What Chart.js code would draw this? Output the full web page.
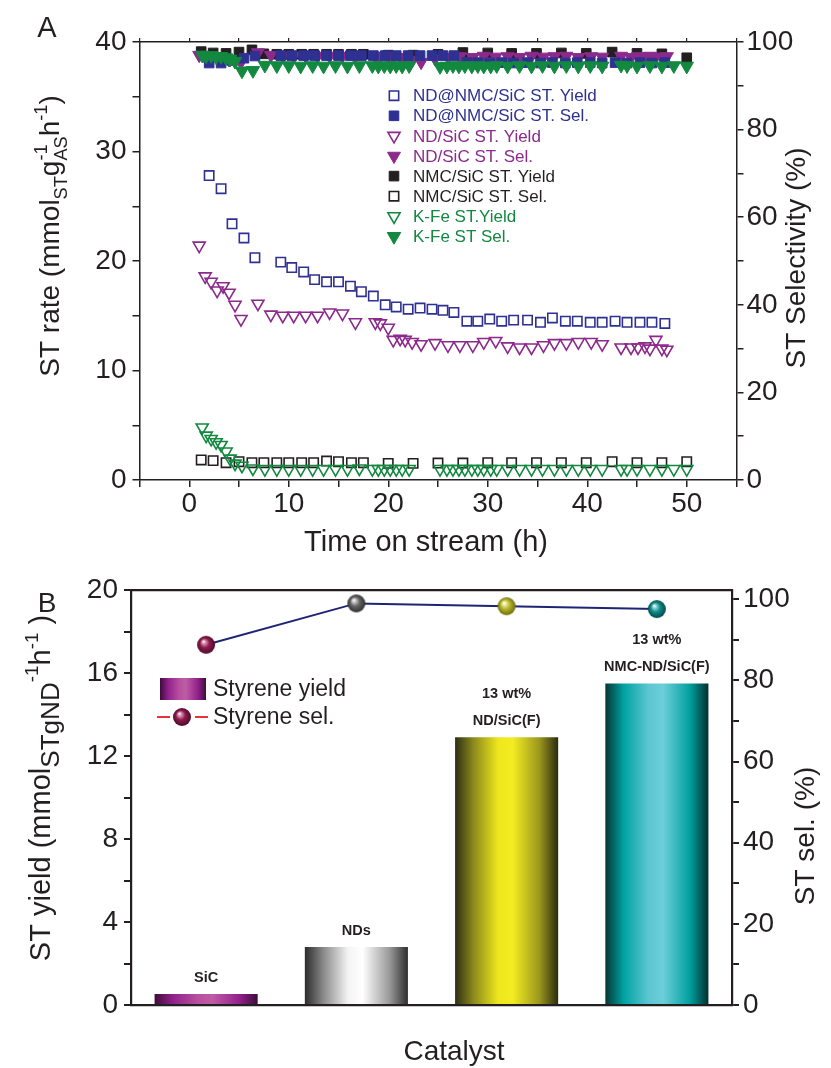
<!DOCTYPE html>
<html>
<head>
<meta charset="utf-8">
<script src="https://cdn.jsdelivr.net/npm/chart.js@4.4.0/dist/chart.umd.min.js"></script>
<style>
  html, body { margin: 0; padding: 0; background: #fff; }
  #wrap { position: relative; width: 831px; height: 1068px; }
  canvas { position: absolute; left: 0; }
  #chartA { top: 0; }
  #chartB { top: 560px; }
</style>
</head>
<body>
<div id="wrap">
  <canvas id="chartA" width="831" height="560"></canvas>
  <canvas id="chartB" width="831" height="508"></canvas>
</div>
<script>
// ---------- panel A : rate / selectivity vs time on stream ----------
const hoursNdNmc = [2.0, 3.2, 4.3, 5.5, 6.6, 9.2, 10.3, 11.5, 12.6, 13.8, 15.0, 16.2, 17.3, 18.5, 19.7, 20.8, 22.0, 23.2, 24.4, 25.5, 26.6,
  27.9, 29.0, 30.2, 31.4, 32.6, 34.0, 35.3, 36.5, 37.8, 39.0, 40.3, 41.5, 42.8, 44.0, 45.3, 46.5, 47.8];
const ndNmcYield = [27.8, 26.6, 23.4, 22.1, 20.3, 19.9, 19.4, 19.0, 18.3, 18.1, 18.1, 17.7, 17.2, 16.8, 16.0, 15.8, 15.6, 15.7, 15.6, 15.5, 15.3,
  14.5, 14.5, 14.7, 14.5, 14.6, 14.6, 14.4, 14.8, 14.5, 14.5, 14.4, 14.4, 14.5, 14.4, 14.4, 14.4, 14.3];
const ndNmcSel = [95.2, 95.2, 95.8, 96.3, 96.8, 96.9, 96.9, 96.9, 96.9, 96.9, 96.9, 96.9, 96.9, 96.9, 96.9, 96.9, 96.9, 96.9, 96.9, 96.9, 96.9,
  95.3, 95.3, 95.2, 95.3, 95.2, 95.3, 95.2, 95.3, 95.2, 95.3, 95.3, 95.2, 95.3, 95.2, 95.3, 95.2, 95.3];

const hoursNdSic = [1.0, 1.6, 2.2, 2.8, 3.4, 4.0, 4.6, 5.2, 6.9, 8.2, 9.4, 10.5, 11.7, 12.9, 14.1, 15.4, 16.7, 18.7, 19.2, 20.0,
  20.5, 21.2, 21.7, 22.4, 23.3, 24.7, 26.0, 27.2, 28.5, 29.6, 30.8, 32.0, 33.2, 34.4, 35.6, 36.7, 37.9, 39.1, 40.4, 41.5,
  43.4, 44.4, 45.1, 45.8, 46.3, 46.9, 47.5, 48.0];
const ndSicYield = [21.4, 18.6, 18.1, 17.3, 17.7, 17.1, 16.0, 14.7, 16.1, 15.1, 15.0, 15.0, 15.0, 15.0, 15.3, 15.2, 14.4, 14.4, 14.3, 13.9,
  12.8, 12.9, 12.8, 12.6, 12.4, 12.5, 12.3, 12.3, 12.3, 12.6, 12.7, 12.2, 12.1, 12.1, 12.3, 12.5, 12.5, 12.6, 12.6, 12.4,
  12.1, 12.1, 12.1, 12.2, 12.0, 12.8, 12.0, 11.9];
const ndSicSel = [97.0, 96.6, 96.4, 96.5, 96.3, 96.0, 95.6, 95.4, 97.6, 97.0, 96.8, 96.8, 96.8, 96.8, 96.8, 96.8, 96.8, 96.8, 96.8, 96.8,
  96.6, 96.5, 96.2, 95.8, 95.4, 96.2, 96.6, 96.7, 96.5, 96.8, 96.6, 96.7, 96.5, 96.8, 96.6, 96.7, 96.8, 96.5, 96.7, 96.6,
  96.8, 96.5, 96.7, 96.6, 96.8, 96.6, 96.5, 96.7];

const hoursNmcSic = [1.2, 2.4, 3.7, 5.0, 6.3, 7.5, 8.8, 10.0, 11.3, 12.5, 13.8, 15.0, 16.3, 17.5, 20.0, 22.5, 25.0, 27.5, 30.0,
  32.4, 34.9, 37.4, 39.9, 42.5, 45.0, 47.5, 50.0];
const nmcSicYield = [97.8, 97.5, 97.4, 97.7, 98.2, 97.3, 97.2, 97.2, 97.2, 97.2, 97.2, 97.2, 97.2, 97.2, 97.0, 97.0, 97.2, 97.6, 97.5,
  97.4, 97.4, 97.5, 97.4, 97.7, 97.4, 97.3, 96.4];
const nmcSicSel = [1.83, 1.77, 1.58, 1.67, 1.58, 1.58, 1.58, 1.58, 1.58, 1.58, 1.73, 1.67, 1.58, 1.58, 1.52, 1.52, 1.55, 1.55, 1.58,
  1.58, 1.58, 1.58, 1.58, 1.67, 1.58, 1.58, 1.67];

const hoursKFe = [1.3, 1.7, 2.2, 2.7, 3.2, 3.7, 4.1, 4.6, 5.3, 6.4, 7.6, 8.8,
  10.0, 11.2, 12.4, 13.5, 14.7, 15.9, 17.1, 18.4, 19.0, 19.6, 20.2, 20.8, 21.4, 22.1,
  25.2, 25.9, 26.5, 27.1, 27.7, 28.4, 29.0, 29.6, 30.3, 30.9, 32.0, 33.2, 34.4, 35.5, 36.7, 37.9, 39.1, 40.3, 41.5,
  43.4, 44.0, 45.0, 46.3, 47.5, 48.7, 50.0];
const kFeYield = [4.8, 4.05, 3.75, 3.45, 3.2, 2.6, 1.95, 1.5, 1.3, 1.05, 1.0, 1.0,
  1.0, 1.0, 1.0, 1.0, 1.0, 1.0, 1.05, 1.0, 1.0, 1.0, 1.0, 1.0, 1.0, 1.0,
  1.0, 1.0, 1.0, 1.0, 1.0, 1.0, 1.0, 1.0, 1.0, 1.0, 1.0, 1.0, 1.0, 1.0, 1.0, 1.0, 1.0, 1.0, 1.0,
  1.0, 1.0, 1.0, 1.0, 1.0, 1.0, 1.0];
const kFeSel = [97.0, 96.8, 96.9, 96.6, 96.7, 96.4, 96.1, 95.6, 93.4, 93.5, 94.7, 94.6,
  94.6, 94.5, 94.6, 94.5, 94.6, 94.5, 94.6, 94.6, 94.5, 94.6, 94.5, 94.6, 94.5, 94.6,
  94.4, 94.5, 94.6, 94.5, 94.6, 94.5, 94.6, 94.5, 94.5, 94.6, 94.5, 94.6, 94.5, 94.6, 94.5, 94.6, 94.5, 94.6, 94.5,
  94.7, 94.6, 94.5, 94.6, 94.5, 94.6, 94.5];

const seriesLabels = ['ND@NMC/SiC ST. Yield', 'ND@NMC/SiC ST. Sel.', 'ND/SiC ST. Yield', 'ND/SiC ST. Sel.',
  'NMC/SiC ST. Yield', 'NMC/SiC ST. Sel.', 'K-Fe ST.Yield', 'K-Fe ST Sel.'];
const timeTicks = [0, 10, 20, 30, 40, 50];
const rateTicks = [0, 10, 20, 30, 40];
const selTicks = [0, 20, 40, 60, 80, 100];

// ---------- panel B : catalysts ----------
const catalysts = ['SiC', 'NDs', 'ND/SiC(F)', 'NMC-ND/SiC(F)'];
const styreneYield = [0.53, 2.8, 12.9, 15.5];
const styreneSel = [88.8, 99.0, 98.3, 97.6];
const barTags = [['SiC'], ['NDs'], ['13 wt%', 'ND/SiC(F)'], ['13 wt%', 'NMC-ND/SiC(F)']];
const yieldTicks = [0, 4, 8, 12, 16, 20];
const selTicksB = [0, 20, 40, 60, 80, 100];

// ---------- styling ----------
const FONT = '"Liberation Sans", Arial, Helvetica, sans-serif';
const INK = '#231f20';
const navy = '#2e3191', purple = '#8c2a8c', green = '#12893f', black = '#231f20';

const barShades = [
  ['#3f0c3b', '#93218c', '#b7509e', '#be5ca6', '#93218c', '#3d0c3a'],
  ['#2b2b2b', '#8a8a8a', '#f4f4f4', '#ffffff', '#9a9a9a', '#2e2e2e'],
  ['#2e2e14', '#8c8a1c', '#efe71c', '#f3ec22', '#9a961e', '#2a2a10'],
  ['#063634', '#00a3a3', '#5cc6d2', '#6ccfd9', '#00a0a0', '#042f2e']
];
const shadeStops = [0, 0.18, 0.42, 0.56, 0.82, 1];
const ballShades = [
  ['#e7a6c4', '#8e1b4e', '#4e0b2a'],
  ['#d8d8d8', '#646464', '#303030'],
  ['#f4f4b0', '#b6b52c', '#6e6c0c'],
  ['#a6e2de', '#0e8c88', '#03484a']
];

function pts(xs, ys) { return xs.map((x, i) => ({ x: x, y: ys[i] })); }

function makeBall(sh, r) {
  const c = document.createElement('canvas');
  c.width = c.height = 2 * r + 2;
  const g = c.getContext('2d');
  const m = r + 1;
  const grad = g.createRadialGradient(m - r * 0.3, m - r * 0.38, r * 0.04, m, m, r);
  grad.addColorStop(0, '#ffffff');
  grad.addColorStop(0.12, sh[0]);
  grad.addColorStop(0.5, sh[1]);
  grad.addColorStop(1, sh[2]);
  g.fillStyle = grad;
  g.beginPath(); g.arc(m, m, r, 0, Math.PI * 2); g.fill();
  return c;
}
const balls = ballShades.map(s => makeBall(s, 9));

function axisFont() { return { family: FONT, size: 28 }; }

function richText(ctx, runs, cx, cy, size) {
  ctx.save();
  ctx.translate(cx, cy);
  ctx.rotate(-Math.PI / 2);
  const items = [];
  let w = 0, prevX = 0;
  runs.forEach(([t, kind, scale, stack]) => {
    const fs = size * (scale || (kind === 'n' ? 1 : 0.65));
    ctx.font = fs + 'px ' + FONT;
    const tw = ctx.measureText(t).width;
    const x = stack ? prevX : w;
    w = Math.max(w, x + tw);
    prevX = x;
    items.push({ t, kind, fs, x });
  });
  ctx.fillStyle = INK;
  ctx.textAlign = 'left';
  ctx.textBaseline = 'alphabetic';
  const base = size * 0.36;
  items.forEach(it => {
    ctx.font = it.fs + 'px ' + FONT;
    const dy = it.kind === 'sub' ? size * 0.3 : it.kind === 'sup' ? -size * 0.42 : 0;
    ctx.fillText(it.t, it.x - w / 2, base + dy);
  });
  ctx.restore();
}

function marker(ctx, ds, x, y) {
  const r = ds.pointRadius;
  ctx.save();
  ctx.lineWidth = ds.pointBorderWidth;
  ctx.strokeStyle = ds.pointBorderColor;
  ctx.fillStyle = ds.pointBackgroundColor;
  ctx.beginPath();
  if (ds.pointStyle === 'rect') {
    const s = r * Math.SQRT1_2;
    ctx.rect(x - s, y - s, 2 * s, 2 * s);
  } else {
    ctx.moveTo(x, y + r);
    ctx.lineTo(x - r * 0.866, y - r * 0.5);
    ctx.lineTo(x + r * 0.866, y - r * 0.5);
    ctx.closePath();
  }
  ctx.fill();
  ctx.stroke();
  ctx.restore();
}

function series(i, xs, ys, axis, style, color, filled, r, order) {
  return {
    label: seriesLabels[i], data: pts(xs, ys), yAxisID: axis,
    pointStyle: style, pointRotation: style === 'triangle' ? 180 : 0, pointRadius: r, pointHoverRadius: r,
    pointBorderColor: color, pointBackgroundColor: filled ? color : 'rgba(255,255,255,0)',
    pointBorderWidth: filled ? 1 : 1.6, borderColor: color, backgroundColor: color, order: order
  };
}

// ---------- chart A ----------
const panelA = {
  id: 'panelA',
  afterDraw(chart) {
    const ctx = chart.ctx;
    chart.data.datasets.forEach((ds, i) => {
      const y = 95.7 + i * 20.1;
      marker(ctx, ds, 394, y);
      ctx.fillStyle = ds.pointBorderColor;
      ctx.font = '17px ' + FONT;
      ctx.textAlign = 'left';
      ctx.textBaseline = 'middle';
      ctx.fillText(ds.label, 413, y + 1);
    });
    ctx.fillStyle = INK;
    ctx.font = '29px ' + FONT;
    ctx.textAlign = 'center';
    ctx.textBaseline = 'middle';
    ctx.fillText('A', 47, 29);
    ctx.fillText('Time on stream (h)', 426, 543);
    richText(ctx, [['ST rate (mmol', 'n'], ['ST', 'sub'], ['g', 'n'], ['-1', 'sup'], ['AS', 'sub', 0, true],
      ['h', 'n'], ['-1', 'sup'], [')', 'n']], 49, 236, 28);
    richText(ctx, [['ST Selectivity (%)', 'n']], 795, 258, 28);
  }
};

function edge(w) { return { display: true, color: INK, width: w }; }
function tickGrid(len, w) { return { drawOnChartArea: false, drawTicks: true, tickLength: len, color: INK, lineWidth: w }; }

new Chart(document.getElementById('chartA'), {
  type: 'scatter',
  data: {
    datasets: [
      series(0, hoursNdNmc, ndNmcYield, 'y', 'rect', navy, false, 6.6, 5),
      series(1, hoursNdNmc, ndNmcSel, 'y2', 'rect', navy, true, 6.8, 3),
      series(2, hoursNdSic, ndSicYield, 'y', 'triangle', purple, false, 7, 6),
      series(3, hoursNdSic, ndSicSel, 'y2', 'triangle', purple, true, 7.5, 8),
      series(4, hoursNmcSic, nmcSicYield, 'y2', 'rect', black, true, 6.8, 9),
      series(5, hoursNmcSic, nmcSicSel, 'y', 'rect', black, false, 6.6, 7),
      series(6, hoursKFe, kFeYield, 'y', 'triangle', green, false, 7, 4),
      series(7, hoursKFe, kFeSel, 'y2', 'triangle', green, true, 7.8, 1)
    ]
  },
  options: {
    responsive: false, animation: false, devicePixelRatio: 1,
    layout: { padding: 0 },
    plugins: { legend: { display: false }, tooltip: { enabled: false } },
    scales: {
      x: {
        type: 'linear', position: 'bottom', min: -5, max: 55,
        afterFit: s => { s.height = 80; },
        ticks: { stepSize: 5, autoSkip: false, maxRotation: 0, padding: 0, color: INK, font: axisFont(),
          callback: v => timeTicks.includes(v) ? v : '' },
        grid: tickGrid(7, 1.5), border: edge(1.5)
      },
      x2: {
        type: 'linear', position: 'top', min: -5, max: 55,
        afterFit: s => { s.height = 42; },
        ticks: { stepSize: 5, autoSkip: false, callback: () => '' },
        grid: tickGrid(4, 1.2), border: edge(1.5)
      },
      y: {
        type: 'linear', position: 'left', min: 0, max: 40,
        afterFit: s => { s.width = 139.5; },
        ticks: { stepSize: 5, autoSkip: false, padding: 6, color: INK, font: axisFont(),
          callback: v => rateTicks.includes(v) ? v : '' },
        grid: tickGrid(7, 1.5), border: edge(1.5)
      },
      y2: {
        type: 'linear', position: 'right', min: 0, max: 100,
        afterFit: s => { s.width = 94.5; },
        ticks: { stepSize: 10, autoSkip: false, padding: 3, color: INK, font: axisFont(),
          callback: v => selTicks.includes(v) ? v : '' },
        grid: tickGrid(7, 1.5), border: edge(1.5)
      }
    }
  },
  plugins: [panelA]
});

// ---------- chart B ----------
function barFill(c) {
  const chart = c.chart;
  const xs = chart.scales.x;
  const i = c.dataIndex;
  if (!chart.chartArea || !xs || i === undefined) return barShades[0][2];
  const cx = xs.getPixelForValue(i);
  const half = xs.width / catalysts.length * 0.686 / 2;
  const g = chart.ctx.createLinearGradient(cx - half, 0, cx + half, 0);
  barShades[i].forEach((col, k) => g.addColorStop(shadeStops[k], col));
  return g;
}

const panelB = {
  id: 'panelB',
  afterDraw(chart) {
    const ctx = chart.ctx;
    const xs = chart.scales.x, yl = chart.scales.yL;
    ctx.fillStyle = INK;
    ctx.textAlign = 'center';
    ctx.textBaseline = 'middle';
    ctx.font = 'bold 14.5px ' + FONT;
    barTags.forEach((tags, i) => {
      const cx = xs.getPixelForValue(i);
      const top = yl.getPixelForValue(styreneYield[i]);
      tags.forEach((t, k) => {
        ctx.fillText(t, cx, top - 16 - (tags.length - 1 - k) * 27);
      });
    });
    // legend
    const g = ctx.createLinearGradient(160, 0, 206, 0);
    barShades[0].forEach((col, k) => g.addColorStop(shadeStops[k], col));
    ctx.fillStyle = g;
    ctx.fillRect(160, 118, 46, 22);
    ctx.strokeStyle = '#e8323c';
    ctx.lineWidth = 2;
    ctx.beginPath();
    ctx.moveTo(157, 157); ctx.lineTo(170, 157);
    ctx.moveTo(195, 157); ctx.lineTo(208, 157);
    ctx.stroke();
    ctx.drawImage(balls[0], 182 - balls[0].width / 2, 157 - balls[0].height / 2);
    ctx.fillStyle = INK;
    ctx.font = '23px ' + FONT;
    ctx.textAlign = 'left';
    ctx.fillText('Styrene yield', 213, 130);
    ctx.fillText('Styrene sel.', 213, 158);
    // titles
    ctx.font = '28px ' + FONT;
    ctx.textAlign = 'center';
    ctx.fillText('B', 47, 44);
    ctx.fillText('Catalyst', 454, 492);
    richText(ctx, [['ST yield (mmol', 'n'], ['STgND', 'sub', 0.9], ['-1', 'sup'], ['h', 'n'], ['-1', 'sup'], [' )', 'n']], 40, 228, 29);
    richText(ctx, [['ST sel. (%)', 'n']], 804, 276, 28);
  }
};

new Chart(document.getElementById('chartB'), {
  type: 'bar',
  data: {
    labels: catalysts,
    datasets: [
      { type: 'line', label: 'Styrene sel.', data: styreneSel, yAxisID: 'yR', xAxisID: 'x',
        borderColor: '#1f2475', borderWidth: 2, tension: 0, pointStyle: balls, pointRadius: 9, order: 0 },
      { type: 'bar', label: 'Styrene yield', data: styreneYield, yAxisID: 'yL', xAxisID: 'x',
        backgroundColor: barFill, borderWidth: 0, barPercentage: 0.686, categoryPercentage: 1, order: 1 }
    ]
  },
  options: {
    responsive: false, animation: false, devicePixelRatio: 1,
    layout: { padding: 0 },
    plugins: { legend: { display: false }, tooltip: { enabled: false } },
    scales: {
      x: {
        type: 'category', position: 'bottom',
        afterFit: s => { s.height = 63; },
        ticks: { display: false }, grid: { display: false }, border: edge(2.2)
      },
      xTop: {
        type: 'linear', position: 'top', min: 0, max: 1,
        afterFit: s => { s.height = 30; },
        ticks: { display: false }, grid: { display: false }, border: edge(2.2)
      },
      yL: {
        type: 'linear', position: 'left', min: 0, max: 20,
        afterFit: s => { s.width = 131; },
        ticks: { stepSize: 2, autoSkip: false, padding: 6, color: INK, font: axisFont(),
          callback: v => yieldTicks.includes(v) ? v : '' },
        grid: tickGrid(7, 2), border: edge(2.2)
      },
      yR: {
        type: 'linear', position: 'right', min: 0, max: 102.3,
        afterFit: s => { s.width = 99; },
        ticks: { stepSize: 10, includeBounds: false, autoSkip: false, padding: 4, color: INK, font: axisFont(),
          callback: v => selTicksB.includes(v) ? v : '' },
        grid: tickGrid(7, 2), border: edge(2.2)
      }
    }
  },
  plugins: [panelB]
});
</script>
</body>
</html>
